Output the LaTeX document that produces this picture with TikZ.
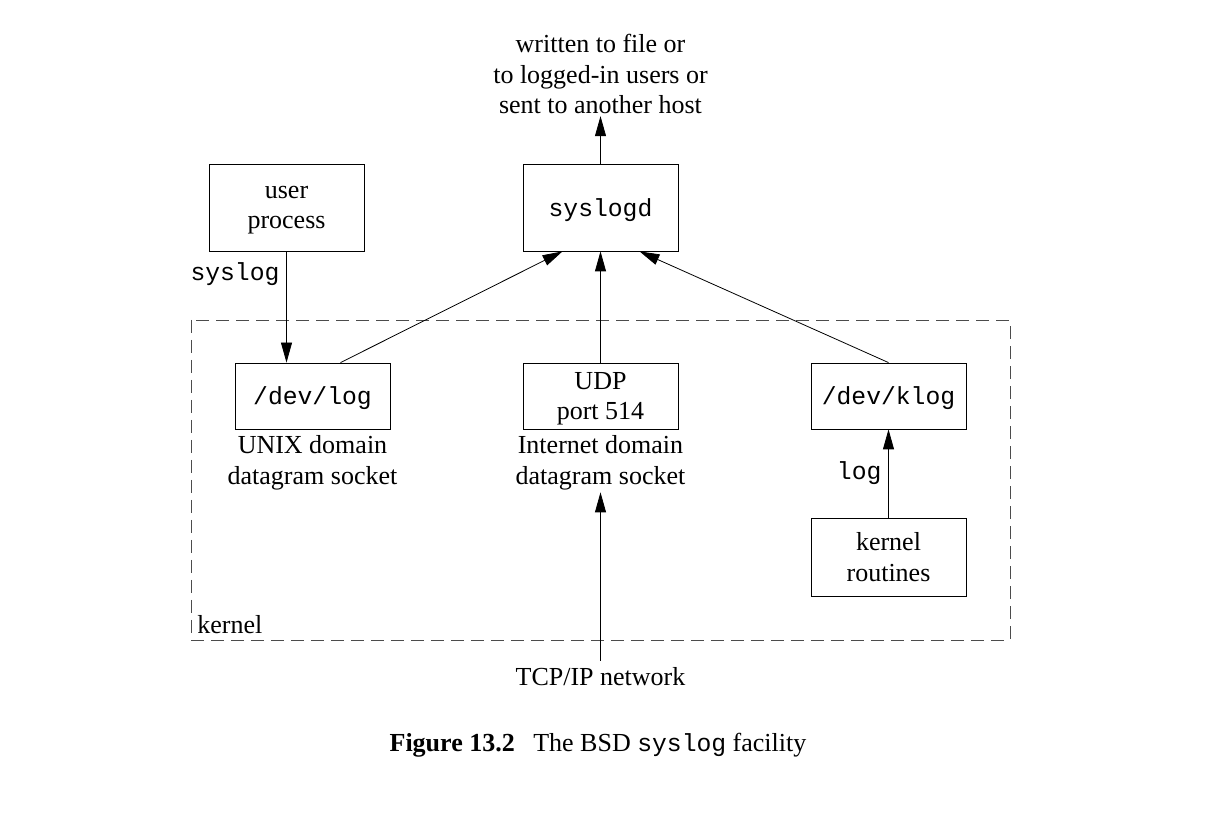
\documentclass[tikz,border=0pt]{standalone}
\usepackage{fontspec}
\setmainfont{Liberation Serif}
\setmonofont[Scale=0.95]{Liberation Mono}
\usepackage{tikz}
\usetikzlibrary{positioning, arrows.meta}
\tikzset{>={Triangle[length=10pt, width=5.5pt]}, node distance = 2cm}

\begin{document}
\begin{tikzpicture}[x=0.5pt, y=0.5pt,
    every node/.style={font=\fontsize{13}{15.25}\selectfont},
    box/.style={draw, minimum width=77.5pt, minimum height=33pt, align=center, inner sep=0pt, text depth=0pt},
    tall/.style={box, minimum height=43.5pt},
    lbl/.style={align=center, inner sep=1pt},
    kernelbox/.style={dash pattern=on 6.5pt off 3.5pt, draw=black!70}]
    \useasboundingbox (0,0) rectangle (1211,824);

    % daemon and where it sends things
    \node[tall] (syslogd) at (600.5,616.5) {\ttfamily syslogd};
    \node[lbl] (dest) at (600.5,750) {written to file or\\to logged-in users or\\sent to another host};
    \node[tall, node distance=157pt, left of=syslogd] (userproc) {user\\process};

    % sockets
    \node[box, node distance=94.25pt, below of=syslogd] (udp) {UDP\\port 514};
    \node[box, node distance=144pt, left of=udp] (devlog) {\ttfamily /dev/log};
    \node[box, node distance=144pt, right of=udp] (devklog) {\ttfamily /dev/klog};
    \node[box, minimum height=39pt, node distance=80.5pt, below of=devklog] (kernrout) {kernel\\routines};
    \node[lbl, below=2pt of devlog] (unixlbl) {UNIX domain\\datagram socket};
    \node[lbl, below=2pt of udp] (inetlbl) {Internet domain\\datagram socket};

    % kernel
    \draw[kernelbox] (191,504) rectangle (1010,184);
    \node[anchor=south west, inner sep=3pt] (kernlbl) at (191,184) {kernel};
    \node (tcpip) at (600.5,147) {TCP/IP network};

    \node[anchor=base] (caption) at (598,72) {\textbf{Figure 13.2}\hspace{6pt} The BSD {\ttfamily syslog} facility};

    \draw[->] (syslogd) -- (dest);
    \draw[->] (userproc.south) -- node[left, pos=0.2]{\ttfamily syslog} (userproc.south |- devlog.north);
    \draw[->] ([xshift=14pt]devlog.north) -- ([xshift=-19pt]syslogd.south);
    \draw[->] (udp) -- (syslogd);
    \draw[->] (devklog.north) -- ([xshift=19.5pt]syslogd.south);
    \draw[->] (kernrout) -- node[left]{\ttfamily log} (devklog);
    \draw[->] (tcpip) -- (inetlbl);
\end{tikzpicture}
\end{document}
